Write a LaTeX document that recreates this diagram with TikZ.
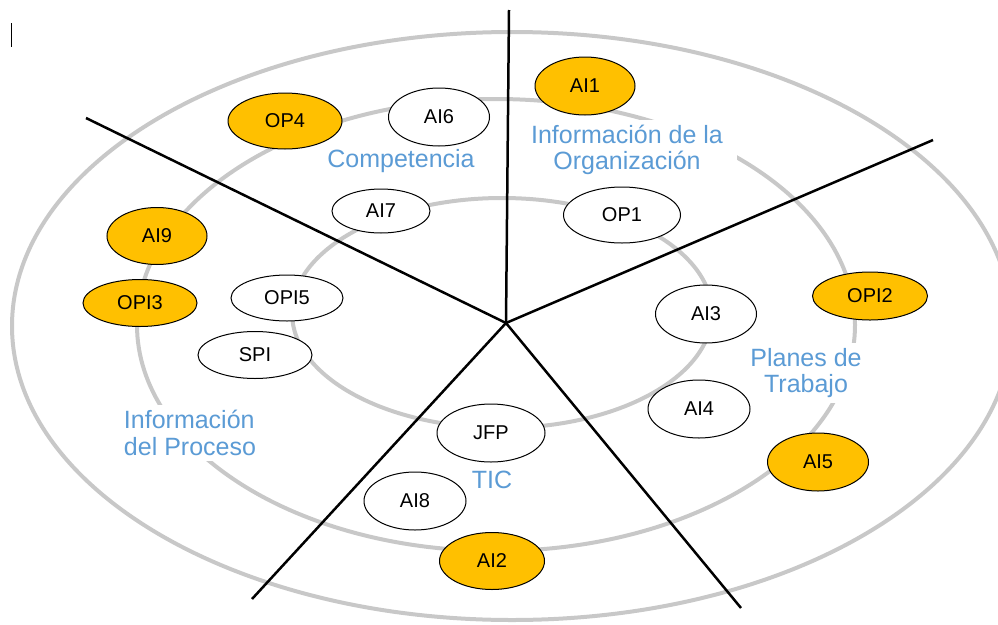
\documentclass[tikz,border=0pt]{standalone}
\usepackage{fontspec}
\setmainfont{Liberation Sans}
\usetikzlibrary{shapes.geometric}
\definecolor{oro}{RGB}{255,192,0}
\definecolor{azulclaro}{RGB}{91,155,213}
\definecolor{anillo}{RGB}{200,200,200}

\begin{document}
\begin{tikzpicture}[x=1pt,y=-1pt,
  elipse/.style={ellipse,draw=black,line width=1pt,inner sep=0pt,
    font=\fontsize{20}{24}\selectfont},
  blanca/.style={elipse,fill=white},
  dorada/.style={elipse,fill=oro},
  tam/.style 2 args={minimum width=#1,minimum height=#2},
  etiqueta/.style={fill=white,text=azulclaro,inner sep=5pt,
    font=\fontsize{25}{26.5}\selectfont},
  radio/.style={black,line width=2.5pt},
  aro/.style={anillo,line width=4pt}]
  \useasboundingbox (0,0) rectangle (998,624);

  % anillos
  \draw[aro] (512,326) ellipse [x radius=500,y radius=294];
  \draw[aro] (496,325) ellipse [x radius=359,y radius=226];
  \draw[aro] (502,313) ellipse [x radius=210,y radius=115];

  % marca suelta arriba a la izquierda
  \draw[black,line width=1pt] (11,23) -- (11,47);

  % sectores
  \coordinate (centro) at (506,323);
  \coordinate (arriba) at (509,10);
  \coordinate (dcha) at (933,140);
  \coordinate (abajodcha) at (741,608);
  \coordinate (abajoizq) at (252,599);
  \coordinate (izq) at (86,118);
  \draw[radio] (centro) -- (arriba);
  \draw[radio] (centro) -- (dcha);
  \draw[radio] (centro) -- (abajodcha);
  \draw[radio] (centro) -- (abajoizq);
  \draw[radio] (centro) -- (izq);

  % etiquetas de los sectores
  \node[etiqueta,align=center,inner xsep=14pt] (organizacion) at (627,150) {Información de la\\Organización};
  \node[etiqueta] (competencia) at (401,161) {Competencia};
  \node[etiqueta,align=center] (planes) at (806,373) {Planes de\\Trabajo};
  \node[etiqueta,align=left] (proceso) at (190,433) {Información\\del Proceso};
  \node[etiqueta] (tic) at (492,480) {TIC};

  % nodos
  \node[dorada,tam={100}{58}] (AI1) at (585,86) {AI1};
  \node[dorada,tam={114}{56}] (OP4) at (285,121) {OP4};
  \node[blanca,tam={101}{58}] (AI6) at (439,117) {AI6};
  \node[blanca,tam={98}{44}] (AI7) at (381,211) {AI7};
  \node[blanca,tam={117}{56}] (OP1) at (622,215) {OP1};
  \node[dorada,tam={100}{57}] (AI9) at (157,236) {AI9};
  \node[dorada,tam={114}{47}] (OPI3) at (140,303) {OPI3};
  \node[blanca,tam={112}{46}] (OPI5) at (287,298) {OPI5};
  \node[blanca,tam={114}{47}] (SPI) at (255,355) {SPI};
  \node[blanca,tam={101}{58}] (AI3) at (706,314) {AI3};
  \node[dorada,tam={115}{48}] (OPI2) at (870,296) {OPI2};
  \node[blanca,tam={102}{58}] (AI4) at (699,409) {AI4};
  \node[dorada,tam={101}{58}] (AI5) at (818,462) {AI5};
  \node[blanca,tam={108}{58}] (JFP) at (491,433) {JFP};
  \node[blanca,tam={102}{58}] (AI8) at (415,501) {AI8};
  \node[dorada,tam={105}{57}] (AI2) at (492,561) {AI2};
\end{tikzpicture}
\end{document}
